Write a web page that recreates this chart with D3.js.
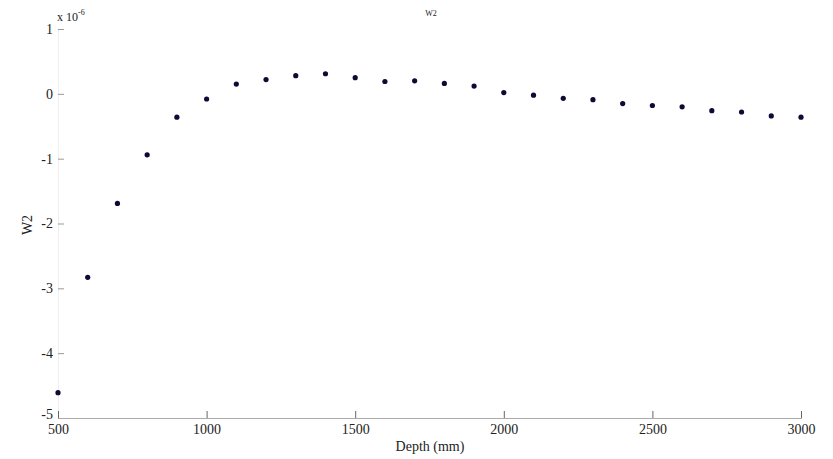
<!DOCTYPE html>
<html>
<head>
  <meta charset="utf-8">
  <title>W2 vs Depth</title>
  <script src="https://d3js.org/d3.v7.min.js"></script>
  <style>
    body { margin: 0; background: #fff; }
    text { font-family: "Liberation Serif", "DejaVu Serif", serif; fill: #222; }
  </style>
</head>
<body>
<div id="chart"></div>
<script>
// depth (mm) and W2 (x 1e-6)
var depths = [500, 600, 700, 800, 900, 1000, 1100, 1200, 1300, 1400, 1500, 1600, 1700,
              1800, 1900, 2000, 2100, 2200, 2300, 2400, 2500, 2600, 2700, 2800, 2900, 3000];
var w2 = [-4.61, -2.83, -1.69, -0.94, -0.36, -0.08, 0.15, 0.22, 0.28, 0.31, 0.25, 0.19, 0.2,
          0.16, 0.12, 0.02, -0.02, -0.07, -0.09, -0.15, -0.18, -0.2, -0.26, -0.28, -0.34, -0.36];
var xTicks = [500, 1000, 1500, 2000, 2500, 3000];
var yTicks = [-5, -4, -3, -2, -1, 0, 1];

var W = 833, H = 459;
var margin = { top: 29, right: 32, bottom: 41, left: 58 };

var svg = d3.select("#chart").append("svg")
  .attr("width", W).attr("height", H);

var x = d3.scaleLinear().domain([500, 3000]).range([margin.left, W - margin.right]);
var y = d3.scaleLinear().domain([-5, 1]).range([H - margin.bottom, margin.top]);

// y axis (faint line, ticks pointing inward)
var ya = svg.append("g")
  .attr("transform", "translate(" + margin.left + ",0)")
  .call(d3.axisRight(y).tickValues(yTicks).tickSize(6).tickFormat(function (d) { return String(d); }));
ya.select(".domain").attr("stroke", "#eee");
ya.selectAll(".tick line").attr("stroke", "#999");
ya.selectAll(".tick text")
  .attr("x", -5).attr("text-anchor", "end")
  .attr("dy", function (d) { return d === -5 ? "0.05em" : "0.32em"; })
  .style("font-size", "14px");

// x axis (ticks pointing up)
var xa = svg.append("g")
  .attr("transform", "translate(0," + (H - margin.bottom) + ")")
  .call(d3.axisTop(x).tickValues(xTicks).tickSize(7).tickFormat(function (d) { return String(d); }));
xa.select(".domain").attr("stroke", "#aaa");
xa.selectAll(".tick line").attr("stroke", "#666");
xa.selectAll(".tick text")
  .attr("y", 6).attr("dy", "0.71em")
  .style("font-size", "14px");

// exponent
var ex = svg.append("text").attr("x", 57).attr("y", 21).style("font-size", "12px");
ex.append("tspan").text("x 10");
ex.append("tspan").attr("dy", -6).style("font-size", "8px").text("-6");

// title
svg.append("text").attr("x", 431).attr("y", 16).attr("text-anchor", "middle")
  .style("font-size", "8px").text("W2");

// axis labels
svg.append("text").attr("x", 430).attr("y", 451).attr("text-anchor", "middle")
  .style("font-size", "14px").text("Depth (mm)");
svg.append("text")
  .attr("transform", "translate(32," + 225 + ") rotate(-90)")
  .attr("text-anchor", "middle")
  .style("font-size", "14px").text("W2");

// points
svg.selectAll(".pt")
  .data(depths.map(function (d, i) { return { d: d, v: w2[i] }; }))
  .enter().append("circle")
  .attr("class", "pt")
  .attr("cx", function (p) { return x(p.d); })
  .attr("cy", function (p) { return y(p.v); })
  .attr("r", 2.6)
  .attr("fill", "#0b0b35");
</script>
</body>
</html>
